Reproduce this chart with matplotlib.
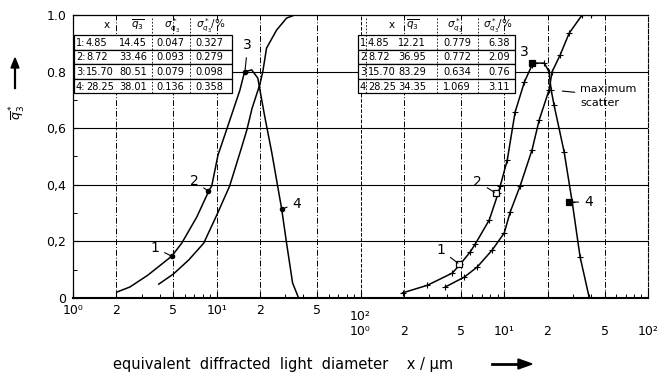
import numpy as np
import matplotlib
matplotlib.use("Agg")
import matplotlib.pyplot as plt
from matplotlib.patches import Rectangle
from matplotlib.lines import Line2D
from matplotlib.ticker import LogLocator, NullFormatter, FixedLocator

plt.rcParams['font.family'] = ['DejaVu Sans']

# left diagram (lower scale 10^0 .. 10^2), x in um
left_a_x = [2.02, 2.49, 3.3, 4.87, 5.71, 7.26, 8.8, 9.23, 10.2, 11.7, 14.5, 15.6, 17.5, 19.3, 21.5, 24.1, 28.3, 30.6, 33.7, 37.1]
left_a_y = [0.021, 0.039, 0.08, 0.148, 0.194, 0.286, 0.378, 0.396, 0.505, 0.594, 0.735, 0.799, 0.806, 0.777, 0.645, 0.516, 0.314, 0.194, 0.053, 0.0]
left_b_x = [3.95, 5.0, 6.4, 8.12, 10.0, 12.3, 14.7, 16.2, 17.6, 19.9, 20.9, 22.2, 26.1, 30.6, 34.8, 40.0]
left_b_y = [0.049, 0.085, 0.135, 0.194, 0.293, 0.396, 0.523, 0.594, 0.67, 0.753, 0.799, 0.883, 0.947, 0.989, 1.0, 1.0]
left_pt_x = [4.85, 8.72, 15.70, 28.25]
left_pt_y = [0.148, 0.378, 0.80, 0.314]

# right diagram (upper scale 10^0 .. 10^2), x in um
right_a_x = [1.96, 2.92, 4.35, 4.95, 5.8, 6.29, 7.87, 9.08, 9.38, 10.5, 11.9, 13.8, 15.6, 16.4, 19.0, 20.5, 21.2, 22.2, 26.1, 29.7, 33.7, 38.9]
right_a_y = [0.018, 0.045, 0.088, 0.120, 0.163, 0.191, 0.276, 0.371, 0.396, 0.488, 0.657, 0.763, 0.823, 0.830, 0.830, 0.799, 0.735, 0.682, 0.516, 0.339, 0.145, 0.004]
right_b_x = [3.89, 5.28, 6.50, 8.26, 10.0, 11.0, 12.9, 15.6, 17.5, 20.5, 21.5, 24.5, 28.3, 34.8, 40.0]
right_b_y = [0.039, 0.074, 0.110, 0.170, 0.230, 0.304, 0.396, 0.523, 0.629, 0.735, 0.799, 0.859, 0.936, 1.0, 1.0]
right_pt_x = [4.85, 8.72, 15.70, 28.25]
right_pt_y = [0.120, 0.371, 0.830, 0.339]
scatter_x, scatter_y = 21.2, 0.735

labels = ["1", "2", "3", "4"]
tab_x = ["4.85", "8.72", "15.70", "28.25"]
left_q = ["14.45", "33.46", "80.51", "38.01"]
left_s = ["0.047", "0.093", "0.079", "0.136"]
left_p = ["0.327", "0.279", "0.098", "0.358"]
right_q = ["12.21", "36.95", "83.29", "34.35"]
right_s = ["0.779", "0.772", "0.634", "1.069"]
right_p = ["6.38", "2.09", "0.76", "3.11"]

ticks_left = [1, 2, 5, 10, 20, 50]
tick_lab = ["10⁰", "2", "5", "10¹", "2", "5", "10²"]
SHIFT = 100  # right diagram sits two decades further right

W, H = 662, 379
fig = plt.figure(figsize=(W / 100, H / 100), dpi=100)
ax = fig.add_axes([73 / W, 1 - 298 / H, 575 / W, 283 / H])
ax.set_xscale('log')
ax.set_xlim(1, 1e4)
ax.set_ylim(0, 1)

dashdot = (0, (6, 2, 1, 2))
for v in ticks_left[1:]:
    ax.axvline(v, color='k', lw=0.7, ls=dashdot)
    ax.axvline(v * SHIFT, color='k', lw=0.7, ls=dashdot)
ax.axvline(SHIFT, color='k', lw=0.7, ls='--')
for h in [0.2, 0.4, 0.6, 0.8]:
    ax.axhline(h, color='k', lw=0.8)

ax.plot(left_a_x, left_a_y, 'k-', lw=1.1)
ax.plot(left_b_x, left_b_y, 'k-', lw=1.1)
ax.plot(left_pt_x, left_pt_y, 'ko', ms=3)

ax.plot(np.array(right_a_x) * SHIFT, right_a_y, 'k-', lw=1.1, marker='+', ms=4, mew=0.8)
ax.plot(np.array(right_b_x) * SHIFT, right_b_y, 'k-', lw=1.1, marker='+', ms=4, mew=0.8)
for i, (x, y) in enumerate(zip(right_pt_x, right_pt_y)):
    ax.plot(x * SHIFT, y, 's', color='k', mfc='white' if i < 2 else 'k', ms=4, mew=0.9)

arr = dict(arrowstyle='-', lw=0.8, color='k', shrinkA=2, shrinkB=1)
left_off = [(-12, 6), (-10, 7), (2, 19), (11, 4)]
right_off = [(-13, 10), (-13, 8), (-6, 8), (14, 0)]
for lab, x, y, o in zip(labels, left_pt_x, left_pt_y, left_off):
    ax.annotate(lab, (x, y), xytext=o, textcoords='offset points',
                ha='center', va='center', fontsize=10, arrowprops=arr)
for lab, x, y, o in zip(labels, right_pt_x, right_pt_y, right_off):
    ax.annotate(lab, (x * SHIFT, y), xytext=o, textcoords='offset points',
                ha='center', va='center', fontsize=10, arrowprops=arr)
ax.annotate("maximum\nscatter", (scatter_x * SHIFT, scatter_y), xytext=(21, -4),
            textcoords='offset points', ha='left', va='center', fontsize=8,
            linespacing=1.5,
            arrowprops=dict(arrowstyle='-', lw=0.8, color='k', shrinkA=2, shrinkB=8))

# axes, ticks
for s in ['top', 'left']:
    ax.spines[s].set_linewidth(0.9)
ax.spines['bottom'].set_linewidth(1.5)
ax.spines['right'].set_linestyle('--')
ax.spines['right'].set_linewidth(0.8)

all_ticks = ticks_left + [t * SHIFT for t in ticks_left] + [SHIFT * SHIFT]
ax.xaxis.set_major_locator(FixedLocator(all_ticks))
ax.set_xticklabels(tick_lab[:-1] + [""] * 7)
ax.xaxis.set_minor_locator(LogLocator(base=10, subs=(3, 4, 6, 7, 8, 9), numticks=20))
ax.xaxis.set_minor_formatter(NullFormatter())
ax.tick_params(axis='x', which='major', direction='in', length=5, width=0.8, labelsize=9, pad=4)
ax.tick_params(axis='x', which='minor', direction='in', length=3, width=0.7)
xt = ax.get_xaxis_transform()
ax.text(SHIFT, -0.064, tick_lab[-1], transform=xt, ha='center', va='center', fontsize=9)
for t, lab in zip([t * SHIFT for t in ticks_left] + [SHIFT * SHIFT], tick_lab):
    ax.text(t, -0.117, lab, transform=xt, ha='center', va='center', fontsize=9)

ax.set_yticks([0, 0.2, 0.4, 0.6, 0.8, 1.0])
ax.set_yticklabels(["0", "0,2", "0,4", "0,6", "0.8", "1.0"])
ax.set_yticks(np.arange(0.1, 1.0, 0.2), minor=True)
ax.tick_params(axis='y', which='major', direction='in', length=4, width=0.8, labelsize=9, pad=5)
ax.tick_params(axis='y', which='minor', direction='in', length=3, width=0.7)


# tables, drawn in pixel positions of the figure
def P(x, y):
    return x / W, 1 - y / H


def table(x0, x1, cols, seps, hdr_cols, hdr, rows):
    rows_y = [(35, 50), (50, 64), (64, 79), (79, 93)]
    for (t, b) in rows_y:
        fig.add_artist(Rectangle(P(x0, b), (x1 - x0) / W, (b - t) / H, transform=fig.transFigure,
                                 fc='white', ec='k', lw=0.9, zorder=5))
    for sx in seps:
        fig.add_artist(Line2D([sx / W] * 2, [1 - 18 / H, 1 - 93 / H], transform=fig.transFigure,
                              color='k', lw=0.6, ls=(0, (2, 2)), zorder=6))
    for cx, h in zip(hdr_cols, hdr):
        fig.text(*P(cx, 25), h, ha='center', va='center', fontsize=7.5, zorder=6)
    for (t, b), r in zip(rows_y, rows):
        for j, (cx, s) in enumerate(zip(cols, r)):
            fig.text(*P(cx, (t + b) / 2 + 0.5), s, ha='left' if j < 2 else 'center',
                     va='center', fontsize=7.8, fontstretch='condensed', zorder=6)


hdr = ["x", r"$\overline{q_3}$", r"$\sigma_{q_3}^*$", r"$\sigma_{q_3}^*$/%"]
rows_l = [[labels[i] + ":", tab_x[i], left_q[i], left_s[i], left_p[i]] for i in range(4)]
table(74, 232, [76, 86, 133, 170, 209], [152, 190], [107, 138, 172, 211], hdr, rows_l)
rows_r = [[labels[i], tab_x[i], right_q[i], right_s[i], right_p[i]] for i in range(4)]
table(358, 515, [360, 368, 412, 457, 499], [366, 437, 478], [392, 413, 455, 498], hdr, rows_r)

# axis titles
fig.text(18 / W, 1 - 112 / H, r"$\overline{q}_3^*$", rotation=90, ha='center', va='center', fontsize=9)
fig.add_artist(Line2D([15 / W] * 2, [1 - 88 / H, 1 - 66 / H], transform=fig.transFigure, color='k', lw=1.6))
fig.patches.append(plt.Polygon([P(11, 68), P(19, 68), P(15, 58)], closed=True, transform=fig.transFigure,
                               color='k', figure=fig))
fig.text(113 / W, 1 - 364 / H, "equivalent  diffracted  light  diameter    x / μm",
         ha='left', va='center', fontsize=10.5)
fig.add_artist(Line2D([492 / W, 522 / W], [1 - 364 / H] * 2, transform=fig.transFigure, color='k', lw=2))
fig.patches.append(plt.Polygon([P(518, 359), P(518, 369), P(532, 364)], closed=True,
                               transform=fig.transFigure, color='k', figure=fig))

fig.savefig("out.png", dpi=100)
